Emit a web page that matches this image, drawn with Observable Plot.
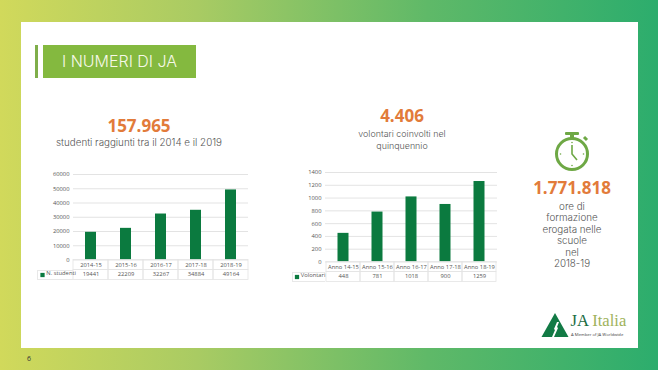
<!DOCTYPE html>
<html><head><meta charset="utf-8">
<script src="https://cdn.jsdelivr.net/npm/d3@7"></script>
<script src="https://cdn.jsdelivr.net/npm/@observablehq/plot@0.6"></script>
<style>
html,body{margin:0;padding:0}
#page{position:relative;width:658px;height:370px;overflow:hidden;background:linear-gradient(90deg,#d1d95b 0%,#a9cb63 30%,#5fb968 65%,#2cad6d 100%);font-family:"Inter","Noto Sans",sans-serif}
#panel{position:absolute;left:21px;top:22px;width:617px;height:326px;background:#fff}
.abs{position:absolute}
.num{position:absolute;font-family:"Open Sans",sans-serif;font-weight:700;font-size:17px;color:#e27b3a;text-align:center;line-height:20px}
.txt{position:absolute;font-family:"Inter",sans-serif;font-weight:300;font-size:9.8px;color:#555;text-align:center;line-height:11.6px}
.plotbox{position:absolute}
.plotbox svg{display:block;background:transparent}
.lg{position:absolute;border:1px solid #e8e8e8;border-right:none;box-sizing:border-box}
</style></head><body>
<div id="page">
  <div id="panel"></div>
  <div class="abs" style="left:35px;top:45px;width:3px;height:33px;background:#7fae4a"></div>
  <div class="abs" style="left:43px;top:45px;width:153px;height:33px;background:#84b93f;color:#f6f8e8;font-family:Inter,sans-serif;font-weight:300;font-size:16px;line-height:33px;text-align:center">I NUMERI DI JA</div>

  <div class="num" style="left:39px;width:200px;top:116px">157.965</div>
  <div class="txt" style="left:19px;width:240px;top:137px">studenti raggiunti tra il 2014 e il 2019</div>

  <div class="num" style="left:302px;width:200px;top:106px">4.406</div>
  <div class="txt" style="left:302px;width:200px;top:128px;font-size:8.9px">volontari coinvolti nel<br>quinquennio</div>

  <svg class="abs" style="left:552px;top:130px" width="40" height="44" viewBox="0 0 40 44">
    <rect x="13" y="2" width="14" height="3" rx="1" fill="#6ea845"/>
    <rect x="18" y="4" width="4" height="5" fill="#6ea845"/>
    <path d="M32 7l3 3" stroke="#6ea845" stroke-width="3"/>
    <circle cx="20" cy="24" r="15.5" fill="#fff" stroke="#6ea845" stroke-width="3"/>
    <path d="M20 15v9l5 6" fill="none" stroke="#6ea845" stroke-width="1.6"/>
    <g fill="#6ea845"><circle cx="20" cy="12.5" r=".8"/><circle cx="20" cy="35.5" r=".8"/><circle cx="8.5" cy="24" r=".8"/><circle cx="31.5" cy="24" r=".8"/></g>
  </svg>
  <div class="num" style="left:512px;width:120px;top:178px">1.771.818</div>
  <div class="txt" style="left:512px;width:120px;top:200.5px">ore di<br>formazione<br>erogata nelle<br>scuole<br>nel<br>2018-19</div>

  <svg class="abs" style="left:540px;top:312px" width="30" height="27" viewBox="0 0 30 27">
    <path d="M15 1L28.5 25H1.5z" fill="#127a45"/>
    <path d="M17 10l-3 7 1 1-3 7h2l4-9-1-1 2-5z" fill="#fff"/>
  </svg>
  <div class="abs" style="left:570.5px;top:311px;font-family:'Liberation Serif',serif;font-size:16.6px;line-height:20px;color:#1c6d43;white-space:nowrap">JA <span style="color:#9fb35c">Italia</span></div>
  <div class="abs" style="left:571px;top:332px;font-family:'Open Sans',sans-serif;font-size:4.2px;line-height:6px;color:#444;white-space:nowrap">A Member of JA Worldwide</div>

  <div class="abs" style="left:24px;top:353px;width:10px;text-align:center;font-family:'Open Sans',sans-serif;font-size:7px;line-height:12px;color:#333">6</div>
</div>
<script>
const studentYears = ["2014-15","2015-16","2016-17","2017-18","2018-19"];
const studentValues = [19441,22209,32267,34884,49164];
const studentTicks = [0,10000,20000,30000,40000,50000,60000];
const studentLabel = "N. studenti";

const volunteerYears = ["Anno 14-15","Anno 15-16","Anno 16-17","Anno 17-18","Anno 18-19"];
const volunteerValues = [448,781,1018,900,1259];
const volunteerTicks = [0,200,400,600,800,1000,1200,1400];
const volunteerLabel = "Volontari";

const BAR = "#0b7a3f", GRID = "#dcdcdc", TEXT = "#555";
const page = document.getElementById("page");

function dataTable(cats, vals, ticks, yMax, label, box){
  const rows = cats.map((c,i)=>({c, v: vals[i]}));
  const p = Plot.plot({
    width: box.width, height: box.height,
    marginLeft: box.ml, marginRight: box.mr, marginTop: box.mt, marginBottom: box.mb,
    style: {background:"transparent", fontFamily:"'Open Sans',sans-serif", fontSize:"5.8px", color:TEXT},
    x: {domain: cats, padding: 0, label: null},
    y: {domain: [0,yMax], label: null},
    marks: [
      Plot.gridY(ticks, {stroke:GRID, strokeOpacity:1, strokeWidth:0.8}),
      Plot.barY(rows, {x:"c", y:"v", fill:BAR, insetLeft:box.inset, insetRight:box.inset}),
      Plot.axisY({ticks, tickSize:0, tickPadding:box.pad, fontSize:5.8, label:null, tickFormat:d=>String(d)}),
      Plot.axisX({tickSize:0, tickPadding:2.5, fontSize:box.fs, label:null, tickFormat:d=>d}),
      Plot.cell(cats, {x:d=>d, fill:"none", stroke:"#e4e4e4", strokeWidth:0.8,
        insetTop:box.height-box.mt-box.mb, insetBottom:-box.rowH}),
      Plot.cell(cats, {x:d=>d, fill:"none", stroke:"#e4e4e4", strokeWidth:0.8,
        insetTop:box.height-box.mt-box.mb+box.rowH, insetBottom:-box.mb+0.5}),
      Plot.text(rows, {x:"c", frameAnchor:"bottom", dy:box.rowH+box.rowH/2+1, text:d=>String(d.v), fontSize:box.fs, fill:TEXT}),
      Plot.dot([label], {frameAnchor:"bottom-left", dx:box.dotDx, dy:box.rowH+box.rowH/2, symbol:"square", r:2.4, fill:BAR}),
      Plot.text([label], {frameAnchor:"bottom-left", dx:box.dotDx+3.8, dy:box.rowH+box.rowH/2, text:d=>d, textAnchor:"start", fontSize:box.fs, fill:TEXT})
    ]
  });
  const wrap = document.createElement("div");
  wrap.className = "plotbox";
  wrap.style.left = box.left+"px"; wrap.style.top = box.top+"px";
  wrap.appendChild(p);
  page.appendChild(wrap);
  const lg = document.createElement("div");
  lg.className = "lg";
  lg.style.left = box.lgLeft+"px"; lg.style.width = (box.left+box.ml-box.lgLeft)+"px";
  lg.style.top = (box.top+box.height-box.mb+box.rowH)+"px"; lg.style.height = (box.mb-box.rowH)+"px";
  page.appendChild(lg);
}

dataTable(studentYears, studentValues, studentTicks, 60000, studentLabel,
  {left:0, top:160, width:260, height:120, ml:73, mr:12, mt:14, mb:20.5, inset:12, pad:4, fs:5.8, rowH:10, dotDx:-31, lgLeft:37});
dataTable(volunteerYears, volunteerValues, volunteerTicks, 1400, volunteerLabel,
  {left:260, top:160, width:250, height:122, ml:65, mr:13, mt:12, mb:20.5, inset:11.5, pad:4, fs:5.8, rowH:10, dotDx:-28.5, lgLeft:292});
</script>
</body></html>
